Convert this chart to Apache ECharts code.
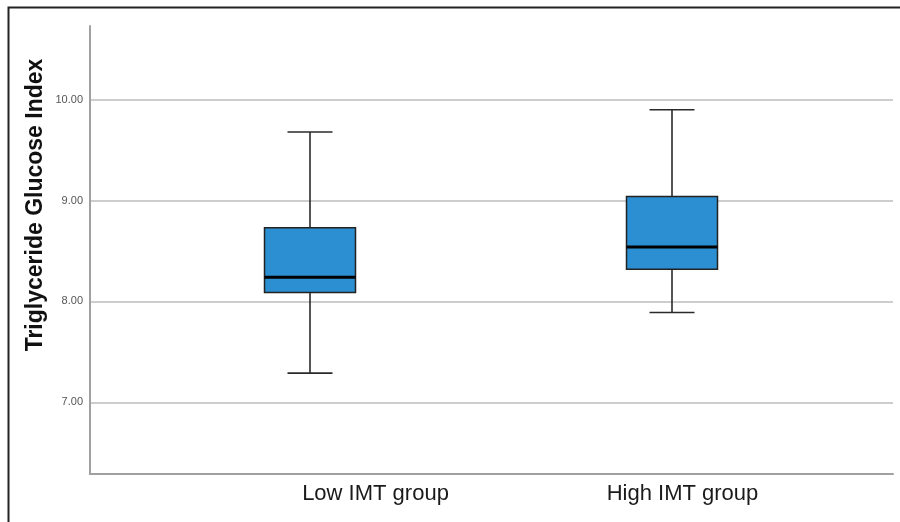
<!DOCTYPE html>
<html>
<head>
<meta charset="utf-8">
<script src="https://cdn.jsdelivr.net/npm/echarts@6/dist/echarts.min.js"></script>
<style>
html,body{margin:0;padding:0;background:#fff;}
#chart{width:900px;height:522px;}
</style>
</head>
<body>
<div id="chart"></div>
<script>
var categories = ['Low IMT group', 'High IMT group'];
var mins    = [7.29, 7.89];
var q1s     = [8.09, 8.32];
var medians = [8.24, 8.54];
var q3s     = [8.73, 9.04];
var maxs    = [9.68, 9.90];
var yTicks  = [7, 8, 9, 10];
var yTitle  = 'Triglyceride Glucose Index';
var yMin = 6.29, yMax = 10.73;

var boxData = categories.map(function (c, i) {
  return [i, mins[i], q1s[i], medians[i], q3s[i], maxs[i]];
});

var chart = echarts.init(document.getElementById('chart'), null, {renderer: 'canvas'});
var font = '"Liberation Sans", Arial, sans-serif';
var gTop = 26, gBottom = 48;

chart.setOption({
  animation: false,
  backgroundColor: '#fff',
  grid: [
    {left: 90, right: 7, top: gTop, bottom: gBottom},
    {left: 129, right: 47, top: gTop, bottom: gBottom},
    {left: 222, right: 64, top: gTop, bottom: gBottom}
  ],
  xAxis: [
    {gridIndex: 0, type: 'category', data: categories,
     axisLine: {show: true, onZero: false, lineStyle: {color: '#a0a0a0', width: 2}},
     axisTick: {show: false}, axisLabel: {show: false}, splitLine: {show: false}},
    {gridIndex: 1, type: 'category', data: categories,
     axisLine: {show: false}, axisTick: {show: false}, axisLabel: {show: false}, splitLine: {show: false}},
    {gridIndex: 2, type: 'category', data: categories,
     axisLine: {show: false}, axisTick: {show: false}, splitLine: {show: false},
     axisLabel: {show: true, margin: 9, fontFamily: font, fontSize: 22, color: '#1a1a1a'}}
  ],
  yAxis: [
    {gridIndex: 0, type: 'value', min: yMin, max: yMax,
     axisLine: {show: true, lineStyle: {color: '#a0a0a0', width: 2}},
     axisTick: {show: false, customValues: yTicks},
     axisLabel: {show: true, customValues: yTicks, margin: 7, fontFamily: font, fontSize: 11, color: '#555',
                 formatter: function (v) { return Number(v).toFixed(2); }},
     splitLine: {show: true, lineStyle: {color: '#bdbdbd', width: 1.5}}},
    {gridIndex: 1, type: 'value', min: yMin, max: yMax, show: false, splitLine: {show: false}},
    {gridIndex: 2, type: 'value', min: yMin, max: yMax, show: false, splitLine: {show: false}}
  ],
  graphic: [
    {type: 'rect', shape: {x: 8.5, y: 7.5, width: 1000, height: 1000},
     style: {fill: null, stroke: '#222', lineWidth: 2}, silent: true, z: 100},
    {type: 'text', x: 36, y: 205, rotation: Math.PI / 2,
     style: {text: yTitle, fontFamily: font, fontSize: 23, fontWeight: 'bold', fill: '#111',
             align: 'center', verticalAlign: 'middle'}}
  ],
  series: [{
    type: 'custom',
    xAxisIndex: 1,
    yAxisIndex: 1,
    data: boxData,
    encode: {x: 0, y: [1, 2, 3, 4, 5]},
    z: 10,
    renderItem: function (params, api) {
      var xi = api.value(0);
      var cx = api.coord([xi, api.value(3)])[0];
      function Y(k) { return api.coord([xi, api.value(k)])[1]; }
      var yLo = Y(1), yQ1 = Y(2), yMed = Y(3), yQ3 = Y(4), yHi = Y(5);
      var bw = 91, cw = 45;
      var ls = {stroke: '#2a2a2a', lineWidth: 1.6};
      return {
        type: 'group',
        children: [
          {type: 'line', shape: {x1: cx, y1: yHi, x2: cx, y2: yQ3}, style: ls},
          {type: 'line', shape: {x1: cx, y1: yQ1, x2: cx, y2: yLo}, style: ls},
          {type: 'line', shape: {x1: cx - cw / 2, y1: yHi, x2: cx + cw / 2, y2: yHi}, style: ls},
          {type: 'line', shape: {x1: cx - cw / 2, y1: yLo, x2: cx + cw / 2, y2: yLo}, style: ls},
          {type: 'rect', shape: {x: cx - bw / 2, y: yQ3, width: bw, height: yQ1 - yQ3},
           style: {fill: '#2b8fd1', stroke: '#222', lineWidth: 1.5}},
          {type: 'line', shape: {x1: cx - bw / 2, y1: yMed, x2: cx + bw / 2, y2: yMed},
           style: {stroke: '#000', lineWidth: 3}}
        ]
      };
    }
  }]
});
</script>
</body>
</html>
